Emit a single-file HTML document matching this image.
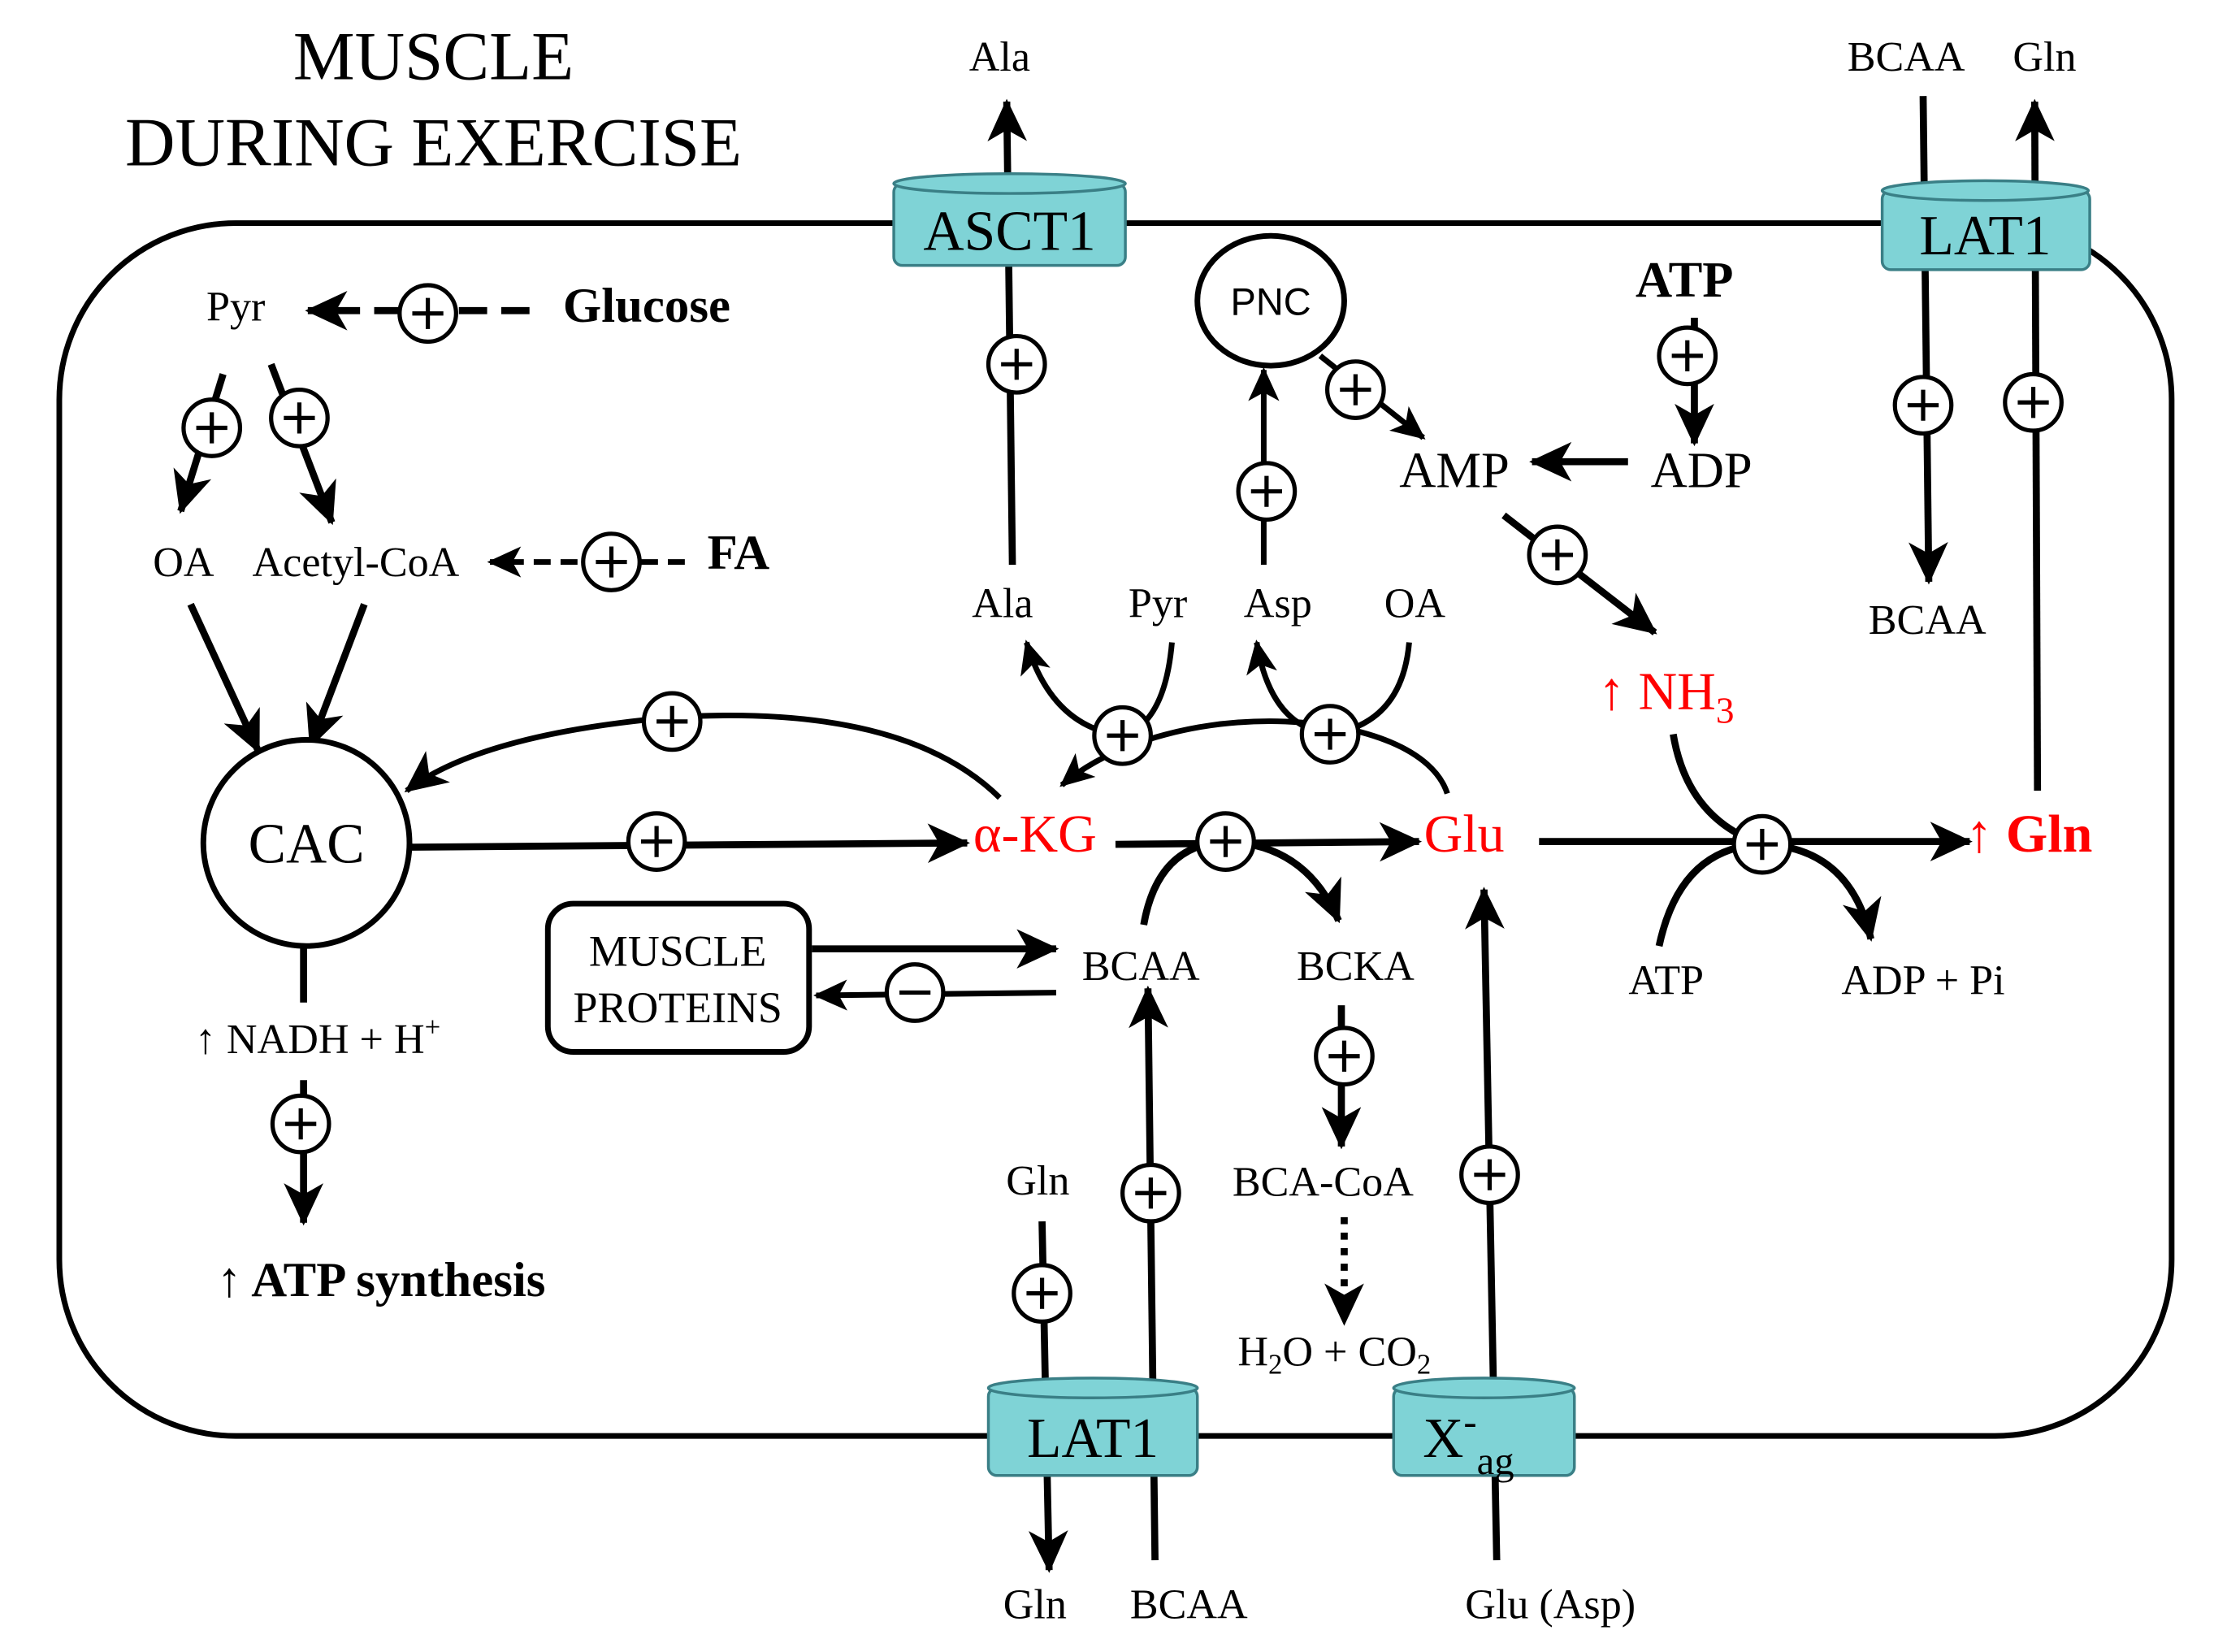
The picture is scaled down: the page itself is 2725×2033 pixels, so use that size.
<!DOCTYPE html>
<html><head><meta charset="utf-8"><style>
html,body{margin:0;padding:0;background:#fff;}
svg{display:block;}
text{font-family:"Liberation Serif",serif;}
</style></head><body>
<svg width="2725" height="2033" viewBox="0 0 1568 1170" preserveAspectRatio="none" xmlns="http://www.w3.org/2000/svg">
<defs>
<marker id="a" markerUnits="userSpaceOnUse" markerWidth="34" markerHeight="30" refX="28" refY="15" orient="auto" viewBox="0 0 34 30">
<path d="M0,1 L30,15 L0,29 L8,15 Z" fill="#000"/></marker>
<marker id="s" markerUnits="userSpaceOnUse" markerWidth="26" markerHeight="24" refX="22" refY="12" orient="auto" viewBox="0 0 26 24">
<path d="M0,1 L24,12 L0,23 L6,12 Z" fill="#000"/></marker>
<g id="p"><circle r="20" fill="#fff" stroke="#000" stroke-width="3"/><path d="M-11,0H11M0,-11V11" stroke="#000" stroke-width="3"/></g>
</defs>
<g fill="none" stroke="#000" stroke-width="5">
<rect x="42" y="158" width="1496" height="859" rx="125" stroke-width="4"/>
</g>
<text x="307" y="56" font-size="49" text-anchor="middle">MUSCLE</text>
<text x="307" y="117" font-size="49" text-anchor="middle">DURING EXERCISE</text>

<g fill="none" stroke="#000" stroke-width="5">
<path d="M717,400 L713,72" marker-end="url(#a)"/>
<path d="M1362,68 L1366,412" marker-end="url(#a)"/>
<path d="M1443,560 L1441,72" marker-end="url(#a)"/>
<path d="M738,865 L743,1112" marker-end="url(#a)"/>
<path d="M818,1105 L813,700" marker-end="url(#a)"/>
<path d="M1060,1105 L1051,630" marker-end="url(#a)"/>
<path d="M375,220 L218,220" stroke-dasharray="20,10" marker-end="url(#a)"/>
<path d="M485,398 L347,398" stroke-width="4" stroke-dasharray="12,7" marker-end="url(#s)"/>
<path d="M158,265 L128,362" marker-end="url(#a)"/>
<path d="M192,258 L235,370" marker-end="url(#a)"/>
<path d="M135,428 L183,532" marker-end="url(#a)"/>
<path d="M258,428 L220,528" marker-end="url(#a)"/>
<path d="M290,600 L685,597" marker-end="url(#a)"/>
<path d="M708,565 Q640,498 476,508 Q340,520 288,560" stroke-width="4" marker-end="url(#a)"/>
<path d="M790,598 L1005,596" marker-end="url(#a)"/>
<path d="M810,655 Q820,598 868,596 Q925,598 948,652" marker-end="url(#a)"/>
<path d="M1090,596 L1395,596" marker-end="url(#a)"/>
<path d="M1175,670 Q1190,600 1248,598 Q1310,600 1325,665" marker-end="url(#a)"/>
<path d="M1185,520 Q1195,580 1248,598"/>
<path d="M1200,225 L1200,314" marker-end="url(#a)"/>
<path d="M1153,327 L1085,327" marker-end="url(#a)"/>
<path d="M1065,365 L1172,448" marker-end="url(#a)"/>
<path d="M935,252 L1008,310" stroke-width="4" marker-end="url(#s)"/>
<path d="M895,400 L895,262" stroke-width="4" marker-end="url(#s)"/>
<path d="M830,455 Q825,512 795,521 Q745,515 727,455" stroke-width="4" marker-end="url(#s)"/>
<path d="M998,455 Q993,512 942,520 Q900,515 890,455" stroke-width="4" marker-end="url(#s)"/>
<path d="M1025,562 C1005,500 830,490 752,556" stroke-width="4" marker-end="url(#s)"/>
<path d="M575,672 L748,672" marker-end="url(#a)"/>
<path d="M748,703 L578,705" stroke-width="4" marker-end="url(#s)"/>
<path d="M950,712 L950,812" marker-end="url(#a)"/>
<path d="M952,862 L952,937" stroke-dasharray="5,6" marker-end="url(#a)"/>
<path d="M215,670 L215,710"/>
<path d="M215,765 L215,866" marker-end="url(#a)"/>
</g>

<g stroke="#3a7f86" stroke-width="2" fill="#7fd3d6">
<rect x="633" y="130" width="164" height="58" rx="6"/><ellipse cx="715" cy="130" rx="82" ry="7"/>
<rect x="1333" y="135" width="147" height="56" rx="6"/><ellipse cx="1406" cy="135" rx="73" ry="7"/>
<rect x="700" y="983" width="148" height="62" rx="6"/><ellipse cx="774" cy="983" rx="74" ry="7"/>
<rect x="987" y="983" width="128" height="62" rx="6"/><ellipse cx="1051" cy="983" rx="64" ry="7"/>
</g>
<g font-size="40" text-anchor="middle">
<text x="715" y="177">ASCT1</text>
<text x="1406" y="180">LAT1</text>
<text x="774" y="1032">LAT1</text>
<text x="1040" y="1032">X<tspan font-size="28" dy="-16">-</tspan><tspan font-size="28" dy="28">ag</tspan></text>
</g>

<circle cx="217" cy="597" r="73" fill="#fff" stroke="#000" stroke-width="4"/>
<text x="217" y="611" font-size="40" text-anchor="middle">CAC</text>
<ellipse cx="900" cy="213" rx="52" ry="46" fill="#fff" stroke="#000" stroke-width="4"/>
<text x="900" y="223" font-size="27" text-anchor="middle" style="font-family:'Liberation Sans',sans-serif">PNC</text>
<rect x="388" y="640" width="185" height="105" rx="18" fill="#fff" stroke="#000" stroke-width="4"/>
<text x="480" y="684" font-size="31" text-anchor="middle">MUSCLE</text>
<text x="480" y="724" font-size="31" text-anchor="middle">PROTEINS</text>

<use href="#p" x="720" y="258"/><use href="#p" x="1362" y="287"/><use href="#p" x="1440" y="285"/>
<use href="#p" x="303" y="222"/><use href="#p" x="150" y="303"/><use href="#p" x="212" y="296"/>
<use href="#p" x="433" y="398"/><use href="#p" x="465" y="596"/><use href="#p" x="476" y="511"/>
<use href="#p" x="868" y="596"/><use href="#p" x="1248" y="598"/><use href="#p" x="1195" y="252"/>
<use href="#p" x="1103" y="393"/><use href="#p" x="960" y="276"/><use href="#p" x="897" y="348"/>
<use href="#p" x="795" y="521"/><use href="#p" x="942" y="520"/><use href="#p" x="952" y="748"/>
<use href="#p" x="213" y="796"/><use href="#p" x="738" y="916"/><use href="#p" x="815" y="845"/>
<use href="#p" x="1055" y="832"/>
<circle cx="648" cy="703" r="20" fill="#fff" stroke="#000" stroke-width="3"/><path d="M637,703H659" stroke="#000" stroke-width="3"/>

<g font-size="30" text-anchor="middle">
<text x="708" y="50">Ala</text><text x="1350" y="50">BCAA</text><text x="1448" y="50">Gln</text>
<text x="167" y="227">Pyr</text>
<text x="130" y="408">OA</text><text x="252" y="408">Acetyl-CoA</text>
<text x="1365" y="449">BCAA</text>
<text x="710" y="437">Ala</text><text x="820" y="437">Pyr</text><text x="905" y="437">Asp</text><text x="1002" y="437">OA</text>
<text x="808" y="694">BCAA</text><text x="960" y="694">BCKA</text>
<text x="937" y="847">BCA-CoA</text>
<text x="945" y="967">H<tspan font-size="20" dy="6">2</tspan><tspan dy="-6">O + CO</tspan><tspan font-size="20" dy="6">2</tspan></text>
<text x="1180" y="704">ATP</text><text x="1362" y="704">ADP + Pi</text>
<text x="225" y="746">↑ NADH + H<tspan font-size="20" dy="-12">+</tspan></text>
<text x="735" y="846">Gln</text><text x="733" y="1146">Gln</text><text x="842" y="1146">BCAA</text><text x="1098" y="1146">Glu (Asp)</text>
</g>
<g font-size="36" text-anchor="middle">
<text x="1030" y="345">AMP</text><text x="1205" y="345">ADP</text>
<text x="1193" y="210" font-weight="bold">ATP</text>
</g>
<text x="458" y="228" font-size="35" font-weight="bold" text-anchor="middle">Glucose</text>
<text x="523" y="403" font-size="35" font-weight="bold" text-anchor="middle">FA</text>
<text x="270" y="918" font-size="35" font-weight="bold" text-anchor="middle">↑ ATP synthesis</text>
<g fill="#f00" font-size="38" text-anchor="middle">
<text x="733" y="603">α-KG</text><text x="1037" y="603">Glu</text>
<text x="1180" y="502">↑ NH<tspan font-size="26" dy="10">3</tspan></text>
<text x="1437" y="603" font-weight="bold">↑ Gln</text>
</g>
</svg>
</body></html>
